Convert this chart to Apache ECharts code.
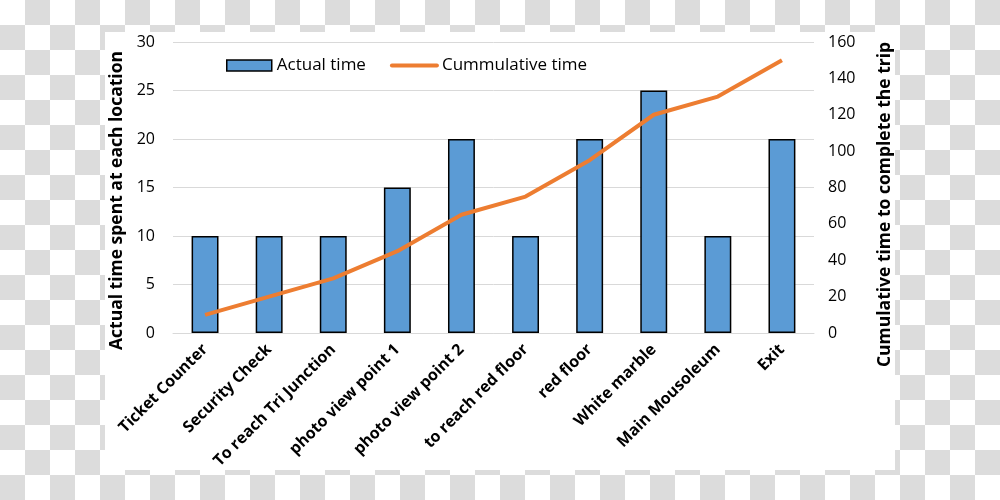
<!DOCTYPE html>
<html><head><meta charset="utf-8">
<script src="https://cdn.jsdelivr.net/npm/echarts@6/dist/echarts.min.js"></script>
<style>
html,body{margin:0;padding:0;}
body{width:1000px;height:500px;position:relative;overflow:hidden;
background:repeating-conic-gradient(#dcdcdc 0 25%, #ffffff 0 50%) 0 0/50px 50px;}
#panel{position:absolute;left:105px;top:32px;width:790px;height:438px;background:#fff;}
#chart{position:absolute;left:0;top:0;width:1000px;height:500px;}
</style></head>
<body><div id="panel"></div><div id="chart"></div>
<script>
const categories = ["Ticket Counter","Security Check","To reach Tri Junction","photo view point 1","photo view point 2","to reach red floor","red floor","White marble","Main Mousoleum","Exit"];
const actualTime = [10,10,10,15,20,10,20,25,10,20];
const cumulativeTime = [10,20,30,45,65,75,95,120,130,150];
const leftTicks = {min:0,max:30,interval:5};
const rightTicks = {min:0,max:160,interval:20};

const font = "'Open Sans', 'Noto Sans', sans-serif";
const chart = echarts.init(document.getElementById('chart'), null, {renderer:'canvas'});
chart.setOption({
  backgroundColor:'transparent',
  animation:false,
  textStyle:{fontFamily:font,color:'#000'},
  grid:{left:173,right:186,top:42,bottom:167,containLabel:false},
  legend:{
    top:52,left:221,itemGap:24,itemWidth:45,itemHeight:11,
    textStyle:{fontFamily:font,fontSize:17,color:'#000'},
    data:[
      {name:'Actual time',icon:'rect',itemStyle:{borderColor:'#000',borderWidth:1.5}},
      {name:'Cummulative time',itemStyle:{opacity:0},lineStyle:{width:4,color:'#ed7d31',cap:'round'}}
    ]
  },
  xAxis:{
    type:'category',data:categories,
    axisLine:{show:true,lineStyle:{color:'#d9d9d9',width:1}},
    axisTick:{show:false},
    axisLabel:{interval:0,rotate:45,margin:14,fontFamily:font,fontSize:16,fontWeight:'bold',color:'#000'}
  },
  yAxis:[{
    type:'value',min:leftTicks.min,max:leftTicks.max,interval:leftTicks.interval,
    name:'Actual time spent at each location',nameLocation:'middle',nameGap:40,nameRotate:90,
    nameTextStyle:{fontFamily:font,fontSize:17.5,fontWeight:'bold',color:'#000',padding:[0,26,0,0]},
    axisLine:{show:false},axisTick:{show:false},
    axisLabel:{fontFamily:font,fontSize:16,color:'#000',margin:18},
    splitLine:{lineStyle:{color:'#d9d9d9',width:1}}
  },{
    type:'value',min:rightTicks.min,max:rightTicks.max,interval:rightTicks.interval,
    name:'Cumulative time to complete the trip',nameLocation:'middle',nameGap:62,nameRotate:90,
    nameTextStyle:{fontFamily:font,fontSize:17.5,fontWeight:'bold',color:'#000',padding:[0,34,0,0]},
    axisLine:{show:false},axisTick:{show:false},
    axisLabel:{fontFamily:font,fontSize:16,color:'#000',margin:14},
    splitLine:{show:false}
  }],
  series:[{
    name:'Actual time',type:'bar',data:actualTime,barWidth:'42%',yAxisIndex:0,
    itemStyle:{color:'#5b9bd5',borderColor:'#000',borderWidth:1.5}
  },{
    name:'Cummulative time',type:'line',data:cumulativeTime,yAxisIndex:1,
    symbol:'none',lineStyle:{color:'#ed7d31',width:4},itemStyle:{color:'#ed7d31'}
  }]
});
</script></body></html>
